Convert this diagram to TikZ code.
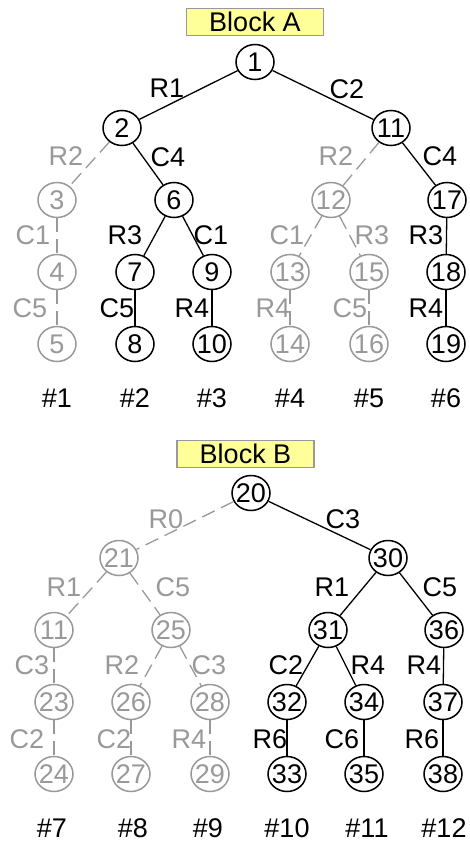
\documentclass[tikz,border=0pt]{standalone}
\usepackage{fontspec}
\setmainfont{Liberation Sans}
\usetikzlibrary{shapes.geometric}
\definecolor{lg}{RGB}{153,153,153}
\definecolor{by}{RGB}{255,255,153}
\begin{document}
\begin{tikzpicture}[x=1pt,y=-1pt,
 every node/.style={font=\fontsize{27}{32}\selectfont},
 nd/.style={ellipse,draw,line width=1.5pt,minimum width=38pt,minimum height=35pt,inner xsep=-3pt,inner ysep=0pt},
 gnd/.style={nd,draw=lg,text=lg},
 ed/.style={line width=1.3pt},
 ged/.style={line width=1.3pt,draw=lg,dash pattern=on 14pt off 7pt},
 lb/.style={inner sep=0pt},
 glb/.style={lb,text=lg},
 blk/.style={draw=lg,fill=by,line width=1.5pt,minimum width=137pt,minimum height=27pt,inner sep=0pt},
]
\useasboundingbox (0,0) rectangle (469,845);
% ---------- Block A ----------
\node[blk] (bA) at (255,22) {Block A};
\node[nd] (n1) at (255,62) {1};
\node[nd] (n2) at (122,128) {2};
\node[nd] (n11) at (391,128) {11};
\node[gnd] (n3) at (57,200) {3};
\node[nd] (n6) at (174,200) {6};
\node[gnd] (n12) at (331,200) {12};
\node[nd] (n17) at (447,200) {17};
\node[gnd] (n4) at (57,272) {4};
\node[nd] (n7) at (135,272) {7};
\node[nd] (n9) at (212,272) {9};
\node[gnd] (n13) at (290,272) {13};
\node[gnd] (n15) at (369,272) {15};
\node[nd] (n18) at (446,272) {18};
\node[gnd] (n5) at (57,344) {5};
\node[nd] (n8) at (135,344) {8};
\node[nd] (n10) at (212,344) {10};
\node[gnd] (n14) at (290,344) {14};
\node[gnd] (n16) at (369,344) {16};
\node[nd] (n19) at (446,344) {19};
\draw[ed] (n1) -- (n2);
\draw[ed] (n1) -- (n11);
\draw[ged] (n2) -- (n3);
\draw[ed] (n2) -- (n6);
\draw[ged] (n11) -- (n12);
\draw[ed] (n11) -- (n17);
\draw[ged] (n3) -- (n4);
\draw[ged] (n4) -- (n5);
\draw[ed] (n6) -- (n7);
\draw[ed] (n7) -- (n8);
\draw[ed] (n6) -- (n9);
\draw[ed] (n9) -- (n10);
\draw[ged] (n12) -- (n13);
\draw[ged] (n13) -- (n14);
\draw[ged] (n12) -- (n15);
\draw[ged] (n15) -- (n16);
\draw[ed] (n17) -- (n18);
\draw[ed] (n18) -- (n19);
\node[lb] (a1) at (167,88) {R1};
\node[lb] (a2) at (347,89) {C2};
\node[glb] (a3) at (66,156) {R2};
\node[lb] (a4) at (168,157) {C4};
\node[glb] (a5) at (336,156) {R2};
\node[lb] (a6) at (440,156) {C4};
\node[glb] (a7) at (33,235) {C1};
\node[lb] (a8) at (125,235) {R3};
\node[lb] (a9) at (211,235) {C1};
\node[glb] (a10) at (287,235) {C1};
\node[glb] (a11) at (372,235) {R3};
\node[lb] (a12) at (426,235) {R3};
\node[glb] (a13) at (30,308) {C5};
\node[lb] (a14) at (117,308) {C5};
\node[lb] (a15) at (192,308) {R4};
\node[glb] (a16) at (273,308) {R4};
\node[glb] (a17) at (350,308) {C5};
\node[lb] (a18) at (426,308) {R4};
\node[lb] (h1) at (57,398) {\#1};
\node[lb] (h2) at (135,398) {\#2};
\node[lb] (h3) at (212,398) {\#3};
\node[lb] (h4) at (290,398) {\#4};
\node[lb] (h5) at (369,398) {\#5};
\node[lb] (h6) at (446,398) {\#6};
% ---------- Block B ----------
\node[blk] (bB) at (245.5,454) {Block B};
\node[nd] (m20) at (251,493) {20};
\node[gnd] (m21) at (119,558) {21};
\node[nd] (m30) at (388,558) {30};
\node[gnd] (m11) at (54,630) {11};
\node[gnd] (m25) at (171,630) {25};
\node[nd] (m31) at (328,630) {31};
\node[nd] (m36) at (444,630) {36};
\node[gnd] (m23) at (54,702) {23};
\node[gnd] (m26) at (131,702) {26};
\node[gnd] (m28) at (210,702) {28};
\node[nd] (m32) at (287,702) {32};
\node[nd] (m34) at (364,702) {34};
\node[nd] (m37) at (443,702) {37};
\node[gnd] (m24) at (54,774) {24};
\node[gnd] (m27) at (131,774) {27};
\node[gnd] (m29) at (210,774) {29};
\node[nd] (m33) at (287,774) {33};
\node[nd] (m35) at (364,774) {35};
\node[nd] (m38) at (443,774) {38};
\draw[ged] (m20) -- (m21);
\draw[ed] (m20) -- (m30);
\draw[ged] (m21) -- (m11);
\draw[ged] (m21) -- (m25);
\draw[ged] (m11) -- (m23);
\draw[ged] (m23) -- (m24);
\draw[ged] (m25) -- (m26);
\draw[ged] (m26) -- (m27);
\draw[ged] (m25) -- (m28);
\draw[ged] (m28) -- (m29);
\draw[ed] (m30) -- (m31);
\draw[ed] (m30) -- (m36);
\draw[ed] (m31) -- (m32);
\draw[ed] (m32) -- (m33);
\draw[ed] (m31) -- (m34);
\draw[ed] (m34) -- (m35);
\draw[ed] (m36) -- (m37);
\draw[ed] (m37) -- (m38);
\node[glb] (b1) at (166,519) {R0};
\node[lb] (b2) at (343,519) {C3};
\node[glb] (b3) at (64,587) {R1};
\node[glb] (b4) at (173,587) {C5};
\node[lb] (b5) at (332,587) {R1};
\node[lb] (b6) at (440,587) {C5};
\node[glb] (b7) at (32,665) {C3};
\node[glb] (b8) at (122,665) {R2};
\node[glb] (b9) at (209,665) {C3};
\node[lb] (b10) at (286,665) {C2};
\node[lb] (b11) at (368,665) {R4};
\node[lb] (b12) at (424,665) {R4};
\node[glb] (b13) at (27,739) {C2};
\node[glb] (b14) at (114,739) {C2};
\node[glb] (b15) at (189,739) {R4};
\node[lb] (b16) at (270,739) {R6};
\node[lb] (b17) at (342,739) {C6};
\node[lb] (b18) at (422,739) {R6};
\node[lb] (h7) at (52,828) {\#7};
\node[lb] (h8) at (133,828) {\#8};
\node[lb] (h9) at (208,828) {\#9};
\node[lb] (h10) at (287,828) {\#10};
\node[lb] (h11) at (367,828) {\#11};
\node[lb] (h12) at (444,828) {\#12};
\end{tikzpicture}
\end{document}
